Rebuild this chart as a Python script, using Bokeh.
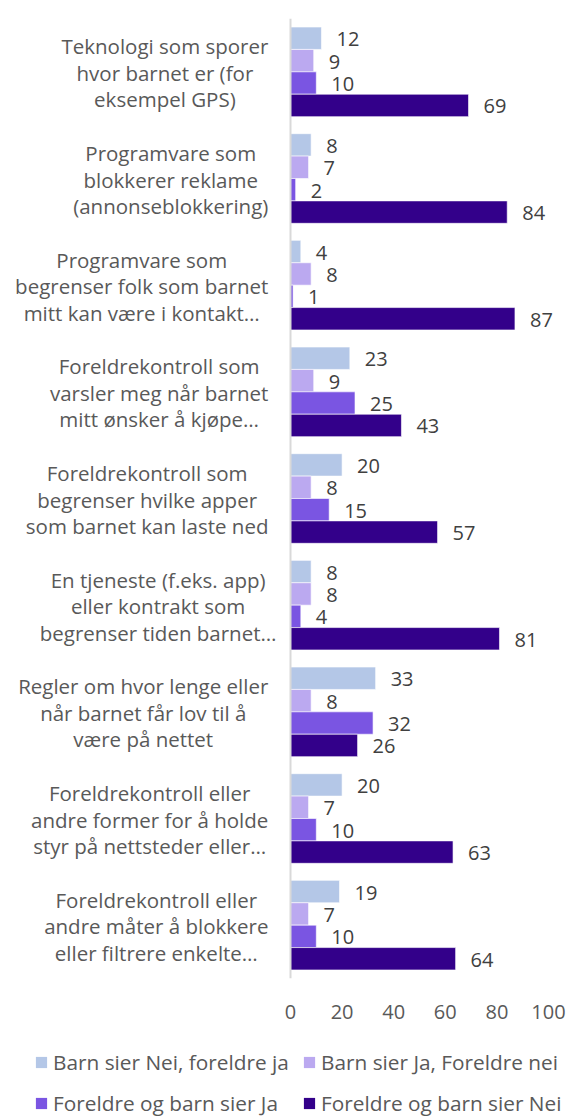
from bokeh.plotting import figure
from bokeh.layouts import column
from bokeh.models import (ColumnDataSource, FactorRange, Range1d, LabelSet, Legend,
                          LegendItem, Span, FixedTicker)
from bokeh.core.properties import value
from bokeh.transform import dodge
from bokeh.embed import file_html
from bokeh.resources import INLINE

categories = [
    "Teknologi som sporer\nhvor barnet er (for\neksempel GPS)",
    "Programvare som\nblokkerer reklame\n(annonseblokkering)",
    "Programvare som\nbegrenser folk som barnet\nmitt kan være i kontakt…",
    "Foreldrekontroll som\nvarsler meg når barnet\nmitt ønsker å kjøpe…",
    "Foreldrekontroll som\nbegrenser hvilke apper\nsom barnet kan laste ned",
    "En tjeneste (f.eks. app)\neller kontrakt som\nbegrenser tiden barnet…",
    "Regler om hvor lenge eller\nnår barnet får lov til å\nvære på nettet",
    "Foreldrekontroll eller\nandre former for å holde\nstyr på nettsteder eller…",
    "Foreldrekontroll eller\nandre måter å blokkere\neller filtrere enkelte…",
]
series_names = [
    "Barn sier Nei, foreldre ja",
    "Barn sier Ja, Foreldre nei",
    "Foreldre og barn sier Ja",
    "Foreldre og barn sier Nei",
]
barn_nei_foreldre_ja = [12, 8, 4, 23, 20, 8, 33, 20, 19]
barn_ja_foreldre_nei = [9, 7, 8, 9, 8, 8, 8, 7, 7]
begge_ja = [10, 2, 1, 25, 15, 4, 32, 10, 10]
begge_nei = [69, 84, 87, 43, 57, 81, 26, 63, 64]
x_ticks = [0, 20, 40, 60, 80, 100]

colors = ["#B4C7E7", "#BBA9F0", "#7A55E2", "#33008A"]
FONT = "Open Sans"
FS = 20          # data labels / ticks
FS_CAT = 20.5    # category labels
FS_LEG = 20.8    # legend
LINE_PITCH = 26.5
W_FIG = 569
H_MAIN, H_LEG = 1035, 82
AXIS_PX_0, AXIS_PX_100 = 290, 548   # where the value axis 0 and 100 sit on screen

# approximate Open Sans advance widths (em) to centre wrapped label lines in a right-aligned block
W = {' ': .26, 'a': .556, 'b': .613, 'c': .476, 'd': .613, 'e': .561, 'f': .339, 'g': .548,
     'h': .614, 'i': .253, 'j': .253, 'k': .525, 'l': .253, 'm': .930, 'n': .614, 'o': .604,
     'p': .613, 'q': .613, 'r': .408, 's': .477, 't': .353, 'u': .614, 'v': .501, 'w': .778,
     'x': .524, 'y': .501, 'z': .463, 'æ': .883, 'ø': .604, 'å': .556, '(': .296, ')': .296,
     '.': .258, ',': .25, 'T': .543, 'P': .604, 'F': .532, 'E': .556, 'R': .618, 'G': .706,
     'S': .549, '…': 0.0}


def block_width(s):
    return max(sum(W.get(ch, .56) for ch in line) for line in s.split("\n")) * FS_CAT


LABEL_RIGHT = -22  # right edge of label block, px from the value axis

upp = 100 / (AXIS_PX_100 - AXIS_PX_0)
x_range = Range1d(-AXIS_PX_0 * upp, 100 + (W_FIG - AXIS_PX_100) * upp)

p = figure(width=W_FIG, height=H_MAIN, output_backend="svg", toolbar_location=None,
           x_range=x_range, y_range=FactorRange(factors=list(reversed(categories))),
           min_border_left=0, min_border_right=0, min_border_top=18,
           min_border_bottom=H_MAIN - 978)
p.outline_line_color = None
p.xgrid.visible = False
p.ygrid.visible = False
p.yaxis.visible = False

lines = [c.split("\n") for c in categories]
src = ColumnDataSource(dict(
    cat=categories,
    s0=barn_nei_foreldre_ja, s1=barn_ja_foreldre_nei, s2=begge_ja, s3=begge_nei,
    zero=[0] * len(categories),
    xoff=[LABEL_RIGHT - block_width(c) / 2 for c in categories],
    line0=[l[0] for l in lines], line1=[l[1] for l in lines], line2=[l[2] for l in lines],
))

offsets = [0.315, 0.105, -0.105, -0.315]
keys = ["s0", "s1", "s2", "s3"]
for i, key in enumerate(keys):
    p.hbar(y=dodge("cat", offsets[i], range=p.y_range), right=key, left=0, height=0.21,
           source=src, fill_color=colors[i], line_color="white", line_width=0.6)
    p.add_layout(LabelSet(x=key, y=dodge("cat", offsets[i], range=p.y_range), text=key,
                          source=src, x_offset=15, y_offset=-1, text_baseline="middle",
                          text_align="left", text_font=value(FONT),
                          text_font_size=f"{FS}px", text_color="#404040"))

for j in range(3):
    p.add_layout(LabelSet(x="zero", y="cat", text=f"line{j}", source=src, x_offset="xoff",
                          y_offset=(1 - j) * LINE_PITCH - 1,
                          text_align="center", text_baseline="middle",
                          text_font=value(FONT), text_font_size=f"{FS_CAT}px",
                          text_color="#595959"))

p.add_layout(Span(location=0, dimension="height", line_color="#D9D9D9", line_width=2))

xa = p.xaxis[0]
xa.ticker = FixedTicker(ticks=x_ticks)
xa.axis_line_color = None
xa.major_tick_line_color = None
xa.minor_tick_line_color = None
xa.major_label_standoff = 20
xa.major_label_text_font = FONT
xa.major_label_text_font_size = f"{FS}px"
xa.major_label_text_color = "#595959"

# legend strip below the chart (hidden proxies carry only the series styles)
pl = figure(width=W_FIG, height=H_LEG, output_backend="svg", toolbar_location=None,
            x_range=Range1d(0, 1), y_range=Range1d(0, 1),
            min_border_left=0, min_border_right=0, min_border_top=0, min_border_bottom=0)
pl.outline_line_color = None
pl.axis.visible = False
pl.grid.visible = False
items = []
for name, c, key in zip(series_names, colors, keys):
    r = pl.hbar(y=key, right=key, left=0, height=0.1, source=src, visible=False,
                fill_color=c, line_color=None)
    items.append(LegendItem(label=name, renderers=[r]))

legend = Legend(items=items, location=(34, -6), orientation="horizontal", ncols=2,
                glyph_width=14, glyph_height=14, label_standoff=5, label_width=249,
                label_height=41, spacing=0, padding=0, margin=0,
                border_line_color=None, background_fill_alpha=0, inactive_fill_alpha=0,
                label_text_font=FONT, label_text_font_size=f"{FS_LEG}px",
                label_text_color="#595959")
pl.add_layout(legend)

open("out.html", "w").write(file_html(column(p, pl, spacing=0), INLINE))
